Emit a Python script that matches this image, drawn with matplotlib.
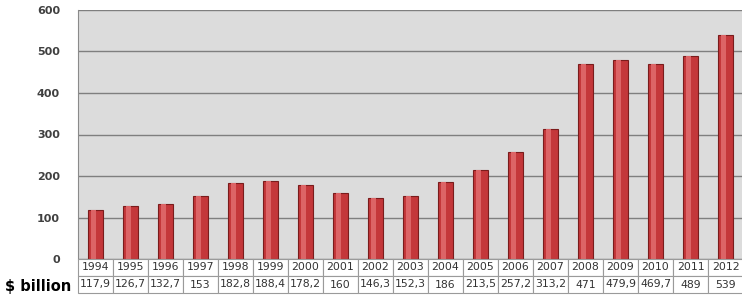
import matplotlib
matplotlib.use("Agg")
import matplotlib.pyplot as plt
import matplotlib.transforms as mtransforms
from matplotlib.patches import Rectangle

years = ["1994", "1995", "1996", "1997", "1998", "1999", "2000", "2001", "2002", "2003",
         "2004", "2005", "2006", "2007", "2008", "2009", "2010", "2011", "2012"]
values = [117.9, 126.7, 132.7, 153, 182.8, 188.4, 178.2, 160, 146.3, 152.3,
          186, 213.5, 257.2, 313.2, 471, 479.9, 469.7, 489, 539]
value_labels = ["117,9", "126,7", "132,7", "153", "182,8", "188,4", "178,2", "160", "146,3", "152,3",
                "186", "213,5", "257,2", "313,2", "471", "479,9", "469,7", "489", "539"]
yticks = [0, 100, 200, 300, 400, 500, 600]
row_title = "$ billion"

fig = plt.figure(figsize=(7.42, 2.95), dpi=100)
ax = fig.add_axes([78 / 742, 36 / 295, 665 / 742, 249 / 295])
ax.set_facecolor("#dcdcdc")

x = list(range(len(years)))
ax.bar(x, values, width=0.42, color="#c4373a", edgecolor="#7a1c1c", linewidth=0.8, zorder=3)
ax.bar([i - 0.06 for i in x], values, width=0.12, color="#dc6466", linewidth=0, zorder=4)

ax.set_xlim(-0.5, len(years) - 0.5)
ax.set_ylim(0, 600)
ax.set_yticks(yticks)
ax.set_yticklabels([str(t) for t in yticks], fontsize=8, color="#404040", fontweight="bold")
ax.tick_params(axis="y", length=0, pad=13)
ax.set_xticks([])
ax.grid(axis="y", color="#7f7f7f", linewidth=1.0, zorder=1)
for s in ["top", "right", "bottom"]:
    ax.spines[s].set_visible(False)
ax.spines["left"].set_color("#8a8a8a")

# table below the axis
trans = mtransforms.blended_transform_factory(ax.transData, ax.transAxes)
row_h = 17 / 249
for i, (yr, vl) in enumerate(zip(years, value_labels)):
    for r, txt in enumerate([yr, vl]):
        y0 = -(r + 1) * row_h
        rect = Rectangle((i - 0.5, y0), 1.0, row_h, transform=trans, facecolor="white",
                         edgecolor="#9a9a9a", linewidth=0.8, clip_on=False, zorder=5)
        ax.add_patch(rect)
        ax.text(i, y0 + row_h / 2, txt, transform=trans, ha="center", va="center",
                fontsize=7.8, color="#333333", clip_on=False, zorder=6)

fig.text(5 / 742, 1 - 286 / 295, row_title, fontsize=10.5, fontweight="bold",
         color="black", ha="left", va="center")

fig.savefig("out.png", dpi=100)
